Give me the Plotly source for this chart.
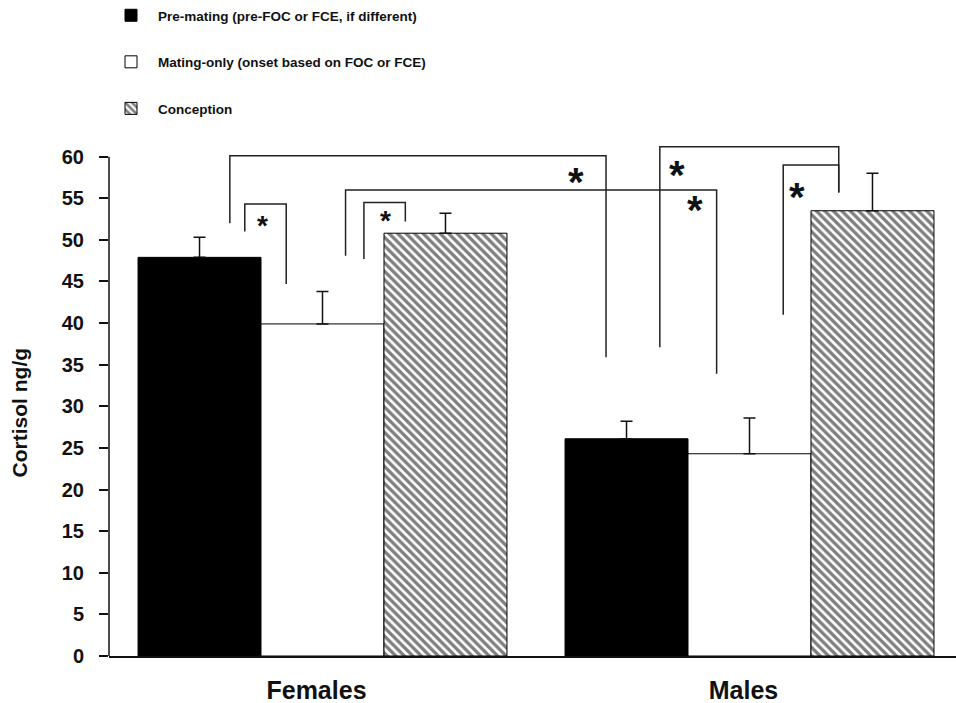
import plotly.graph_objects as go

# Cortisol (ng/g) by sex and reproductive phase, mean with upper SE
groups = ["Females", "Males"]
series_names = [
    "Pre-mating (pre-FOC or FCE, if different)",
    "Mating-only (onset based on FOC or FCE)",
    "Conception",
]
pre_mating = [47.9, 26.1]
pre_mating_se = [2.4, 2.1]
mating_only = [39.9, 24.3]
mating_only_se = [3.9, 4.3]
conception = [50.8, 53.5]
conception_se = [2.4, 4.5]

y_ticks = list(range(0, 61, 5))
y_title = "Cortisol ng/g"

# significance brackets: x_left, x_right (category units), y_top, y_left_end, y_right_end
brackets = [
    (-0.217, 0.664, 60.1, 52.0, 35.9),
    (-0.182, -0.085, 54.3, 51.0, 44.7),
    (0.054, 0.923, 56.0, 48.1, 33.9),
    (0.097, 0.194, 54.5, 47.7, 52.2),
    (0.790, 1.209, 61.2, 37.1, 55.7),
    (1.079, 1.209, 59.0, 41.0, 55.7),
]
# asterisks: x, y, font size
stars = [
    (0.593, 57.3, 40),
    (-0.141, 51.7, 28),
    (0.872, 53.9, 40),
    (0.148, 52.3, 28),
    (0.831, 58.1, 40),
    (1.112, 55.5, 40),
]

FONT = "Arial, 'Liberation Sans', sans-serif"
INK = "#111111"

fig = go.Figure()

err_style = dict(type="data", symmetric=False, color=INK, thickness=1.5, width=6)

fig.add_trace(go.Bar(
    x=groups, y=pre_mating, name=series_names[0], legendgroup="a",
    marker=dict(color="black", line=dict(color="black", width=1)),
    error_y=dict(array=pre_mating_se, arrayminus=[0, 0], **err_style),
))
fig.add_trace(go.Bar(
    x=groups, y=mating_only, name=series_names[1], legendgroup="b",
    marker=dict(color="white", line=dict(color="black", width=1)),
    error_y=dict(array=mating_only_se, arrayminus=[0, 0], **err_style),
))
fig.add_trace(go.Bar(
    x=groups, y=conception, name=series_names[2], legendgroup="c",
    marker=dict(color="white", line=dict(color="black", width=1),
                pattern=dict(shape="\\", size=6, solidity=0.55,
                             fgcolor="black", bgcolor="white")),
    error_y=dict(array=conception_se, arrayminus=[0, 0], **err_style),
))

shapes = []
# y axis line from 0 to 60
shapes.append(dict(type="line", xref="paper", yref="y", x0=0, x1=0,
                   y0=0, y1=y_ticks[-1], line=dict(color=INK, width=1.5)))
for xl, xr, yt, yle, yre in brackets:
    shapes.append(dict(type="path", xref="x", yref="y",
                       path=f"M {xl},{yle} L {xl},{yt} L {xr},{yt} L {xr},{yre}",
                       line=dict(color="#222222", width=1.5)))

annotations = []
for sx, sy, fs in stars:
    annotations.append(dict(x=sx, y=sy, xref="x", yref="y", text="*",
                            showarrow=False, yshift=-(fs - 30) * 0.25,
                            font=dict(family=FONT, size=fs, color=INK, weight="bold"),
                            xanchor="center", yanchor="middle"))
# y axis title
annotations.append(dict(x=-90 / 847, y=0.472, xref="paper", yref="paper",
                        text=y_title, textangle=-90, showarrow=False,
                        xanchor="center", yanchor="middle",
                        font=dict(family=FONT, size=21, color=INK, weight="bold")))

fig.update_layout(
    width=956, height=703,
    margin=dict(l=109, r=0, t=139, b=47),
    paper_bgcolor="white", plot_bgcolor="white",
    barmode="group", bargap=0.136, bargroupgap=0,
    font=dict(family=FONT, color=INK),
    showlegend=True,
    legend=dict(x=-5 / 847, y=1.272, xanchor="left", yanchor="top",
                traceorder="grouped", tracegroupgap=26, itemwidth=44,
                font=dict(family=FONT, size=13.5, color=INK, weight="bold"),
                bgcolor="rgba(0,0,0,0)"),
    shapes=shapes,
    annotations=annotations,
    xaxis=dict(range=[-0.5, -0.5 + 847 / 427], showline=True, linecolor=INK,
               linewidth=1.5, ticks="", showgrid=False, zeroline=False,
               tickfont=dict(family=FONT, size=25, color=INK, weight="bold"),
               ticklabelstandoff=11, ticklabelshift=-6),
    yaxis=dict(range=[0, 62], tickvals=y_ticks, ticks="outside", ticklen=9,
               tickwidth=1.5, tickcolor=INK, showline=False, showgrid=False,
               zeroline=False, ticklabelstandoff=11,
               tickfont=dict(family=FONT, size=20, color=INK, weight="bold")),
)

fig.write_html("out.html")
